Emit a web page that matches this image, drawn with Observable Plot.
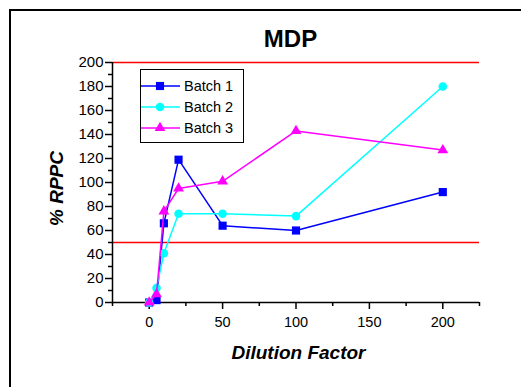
<!DOCTYPE html>
<html><head><meta charset="utf-8">
<script src="https://cdn.jsdelivr.net/npm/d3@7"></script>
<script src="https://cdn.jsdelivr.net/npm/@observablehq/plot@0.6"></script>
<style>
html,body{margin:0;padding:0;background:#fff;overflow:hidden;}
#wrap{position:relative;width:521px;height:387px;overflow:hidden;font-family:"Liberation Sans",Arial,Helvetica,sans-serif;}
#frame{position:absolute;left:9px;top:9px;width:600px;height:500px;border:2px solid #000;box-sizing:border-box;}
#chart{position:absolute;left:0;top:0;}
#legend{position:absolute;left:0;top:0;}
</style></head>
<body><div id="wrap"><div id="frame"></div><div id="chart"></div><svg id="legend" width="521" height="387"></svg></div>
<script>
const dilution = [0, 5, 10, 20, 50, 100, 200];
const batch1 = [0, 2, 66, 119, 64, 60, 92];
const batch2 = [0, 12, 41, 74, 74, 72, 180];
const batch3 = [0, 7, 76, 95, 101, 143, 127];
const seriesNames = ["Batch 1", "Batch 2", "Batch 3"];
const seriesColors = ["#0000ff", "#00ffff", "#ff00ff"];
const seriesSymbols = ["square", "circle", "triangle"];
const seriesR = [4.6, 4.3, 4.0];
const limits = [50, 200];
const xTicks = [0, 50, 100, 150, 200];
const xMinor = [-25, 25, 75, 125, 175, 225];
const yTicks = [0, 20, 40, 60, 80, 100, 120, 140, 160, 180, 200];
const yMinor = [10, 30, 50, 70, 90, 110, 130, 150, 170, 190];

const allSeries = [batch1, batch2, batch3];
const data = allSeries.flatMap((vals, i) => dilution.map((d, j) => ({x: d, y: vals[j], s: i})));

const font = "Liberation Sans, Arial, Helvetica, sans-serif";
const marks = [
  Plot.ruleY(limits, {stroke: "#ff0000", strokeWidth: 1.5}),
  Plot.ruleY([0], {stroke: "#000", strokeWidth: 1.5}),
  Plot.ruleX([-25], {stroke: "#000", strokeWidth: 1.5}),
  Plot.axisX({ticks: xTicks, tickSize: 7, tickPadding: 7, fontSize: 14.5, strokeWidth: 1.5, stroke: "#000", fill: "#000", tickFormat: d => String(d), label: null}),
  Plot.axisX({ticks: xMinor, tickSize: 4, text: null, strokeWidth: 1.5, stroke: "#000", label: null}),
  Plot.axisY({ticks: yTicks, tickSize: 7, tickPadding: 2, fontSize: 15, strokeWidth: 1.5, stroke: "#000", fill: "#000", label: null}),
  Plot.axisY({ticks: yMinor, tickSize: 4, text: null, strokeWidth: 1.5, stroke: "#000", label: null})
];
allSeries.forEach((vals, i) => {
  const rows = data.filter(d => d.s === i);
  marks.push(Plot.line(rows, {x: "x", y: "y", stroke: seriesColors[i], strokeWidth: 1.5}));
  marks.push(Plot.dot(rows, {x: "x", y: "y", fill: seriesColors[i], stroke: "none", symbol: seriesSymbols[i], r: seriesR[i]}));
});
marks.push(Plot.text(["MDP"], {frameAnchor: "top", dx: -5.5, dy: -23.5, lineAnchor: "middle", textAnchor: "middle", fontSize: 24, fontWeight: "bold", fill: "#000"}));
marks.push(Plot.text(["Dilution Factor"], {frameAnchor: "bottom", dx: 2.5, dy: 50, lineAnchor: "middle", textAnchor: "middle", fontSize: 19, fontWeight: "bold", fontStyle: "italic", fill: "#000"}));
marks.push(Plot.text(["% RPPC"], {frameAnchor: "left", dx: -56, dy: 6, rotate: -90, lineAnchor: "middle", textAnchor: "middle", fontSize: 19, fontWeight: "bold", fontStyle: "italic", fill: "#000"}));

const chart = Plot.plot({
  width: 521, height: 387,
  marginLeft: 112, marginRight: 42, marginTop: 62, marginBottom: 85,
  style: {fontFamily: font, background: "transparent", color: "#000", overflow: "visible"},
  x: {domain: [-25, 225], axis: null},
  y: {domain: [0, 200], axis: null},
  marks
});
document.getElementById("chart").appendChild(chart);

// legend
const lg = d3.select("#legend");
lg.append("rect").attr("x", 140.5).attr("y", 69.5).attr("width", 103).attr("height", 73).attr("fill", "#fff").attr("stroke", "#000").attr("stroke-width", 1);
seriesNames.forEach((name, i) => {
  const y = 86 + i * 21;
  lg.append("line").attr("x1", 141).attr("x2", 180).attr("y1", y).attr("y2", y).attr("stroke", seriesColors[i]).attr("stroke-width", 1.5);
  lg.append("path").attr("transform", `translate(160,${y})`).attr("fill", seriesColors[i])
    .attr("d", d3.symbol(i === 0 ? d3.symbolSquare : i === 1 ? d3.symbolCircle : d3.symbolTriangle, Math.PI * seriesR[i] * seriesR[i])());
  lg.append("text").attr("x", 184).attr("y", y).attr("dy", "0.35em").attr("font-size", 14.5).attr("font-family", font).attr("fill", "#000").text(name);
});
</script></body></html>
